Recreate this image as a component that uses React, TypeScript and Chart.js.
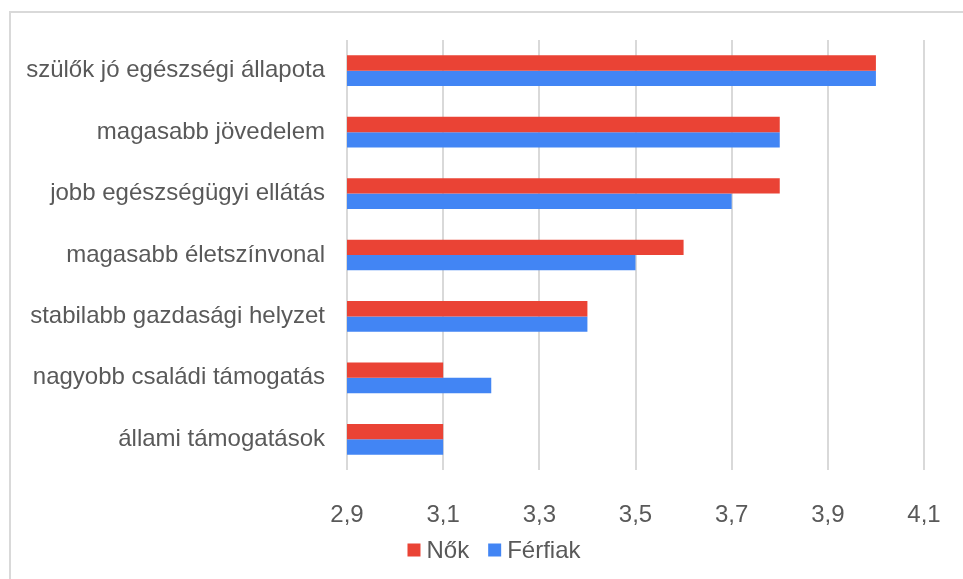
import React, { useEffect, useRef } from "react";
import { Chart, registerables } from "chart.js";

Chart.register(...registerables);

const categories = [
  "szülők jó egészségi állapota",
  "magasabb jövedelem",
  "jobb egészségügyi ellátás",
  "magasabb életszínvonal",
  "stabilabb gazdasági helyzet",
  "nagyobb családi támogatás",
  "állami támogatások",
];
const nokValues = [4.0, 3.8, 3.8, 3.6, 3.4, 3.1, 3.1];
const ferfiakValues = [4.0, 3.8, 3.7, 3.5, 3.4, 3.2, 3.1];
const tickValues = [2.9, 3.1, 3.3, 3.5, 3.7, 3.9, 4.1];
const seriesNames = ["Nők", "Férfiak"];
const seriesColors = ["#EA4335", "#4285F4"];

const FONT = "'Liberation Sans', Arial, sans-serif";
const TEXT = "#595959";

const customLegend = {
  id: "customLegend",
  afterDraw(chart: any) {
    const ctx = chart.ctx;
    ctx.save();
    ctx.font = `24px ${FONT}`;
    ctx.textBaseline = "middle";
    ctx.textAlign = "left";
    const box = 13;
    const gapText = 6;
    const gapItem = 19;
    const items = chart.data.datasets.map((d: any) => ({
      label: d.label,
      color: d.backgroundColor,
      w: box + gapText + ctx.measureText(d.label).width,
    }));
    const total =
      items.reduce((s: number, it: any) => s + it.w, 0) + gapItem * (items.length - 1);
    const centerX = 494;
    const cy = 550;
    let x = centerX - total / 2;
    for (const it of items) {
      ctx.fillStyle = it.color;
      ctx.fillRect(x, cy - box / 2, box, box);
      ctx.fillStyle = TEXT;
      ctx.fillText(it.label, x + box + gapText, cy + 1);
      x += it.w + gapItem;
    }
    ctx.restore();
  },
};

export default function App() {
  const ref = useRef<HTMLCanvasElement | null>(null);
  useEffect(() => {
    if (!ref.current) return;
    const chart = new Chart(ref.current, {
      type: "bar",
      data: {
        labels: categories,
        datasets: [
          {
            label: seriesNames[0],
            data: nokValues,
            backgroundColor: seriesColors[0],
            categoryPercentage: 0.5,
            barPercentage: 1.0,
          },
          {
            label: seriesNames[1],
            data: ferfiakValues,
            backgroundColor: seriesColors[1],
            categoryPercentage: 0.5,
            barPercentage: 1.0,
          },
        ],
      },
      options: {
        indexAxis: "y",
        animation: false,
        responsive: false,
        devicePixelRatio: 1,
        layout: { padding: { left: 0, right: 39, top: 40, bottom: 47 } },
        plugins: {
          tooltip: { enabled: false },
          legend: { display: false },
        },
        scales: {
          x: {
            min: tickValues[0],
            max: tickValues[tickValues.length - 1],
            afterBuildTicks: (scale: any) => {
              scale.ticks = tickValues.map((v) => ({ value: v }));
            },
            afterFit: (scale: any) => {
              scale.height = 62;
              scale.paddingLeft = 0;
              scale.paddingRight = 0;
            },
            grid: { color: "#D9D9D9", lineWidth: 2, drawTicks: false },
            border: { display: false },
            ticks: {
              padding: 31,
              color: TEXT,
              font: { family: FONT, size: 24 },
              callback: (v: any) => Number(v).toFixed(1).replace(".", ","),
            },
          },
          y: {
            afterFit: (scale: any) => {
              scale.width = 347;
            },
            grid: { display: false, drawTicks: false },
            border: { display: false },
            ticks: {
              padding: 22,
              color: TEXT,
              font: { family: FONT, size: 24 },
            },
          },
        },
      },
      plugins: [customLegend],
    });
    return () => chart.destroy();
  }, []);

  return (
    <div
      style={{
        position: "fixed",
        left: 0,
        top: 0,
        width: 963,
        height: 579,
        overflow: "hidden",
        background: "#fff",
      }}
    >
      <div
        style={{
          position: "absolute",
          left: 9,
          top: 11,
          width: 1000,
          height: 600,
          border: "2px solid #D9D9D9",
          boxSizing: "border-box",
        }}
      />
      <canvas
        ref={ref}
        width={963}
        height={579}
        style={{ position: "absolute", left: 0, top: 0, width: 963, height: 579 }}
      />
    </div>
  );
}
